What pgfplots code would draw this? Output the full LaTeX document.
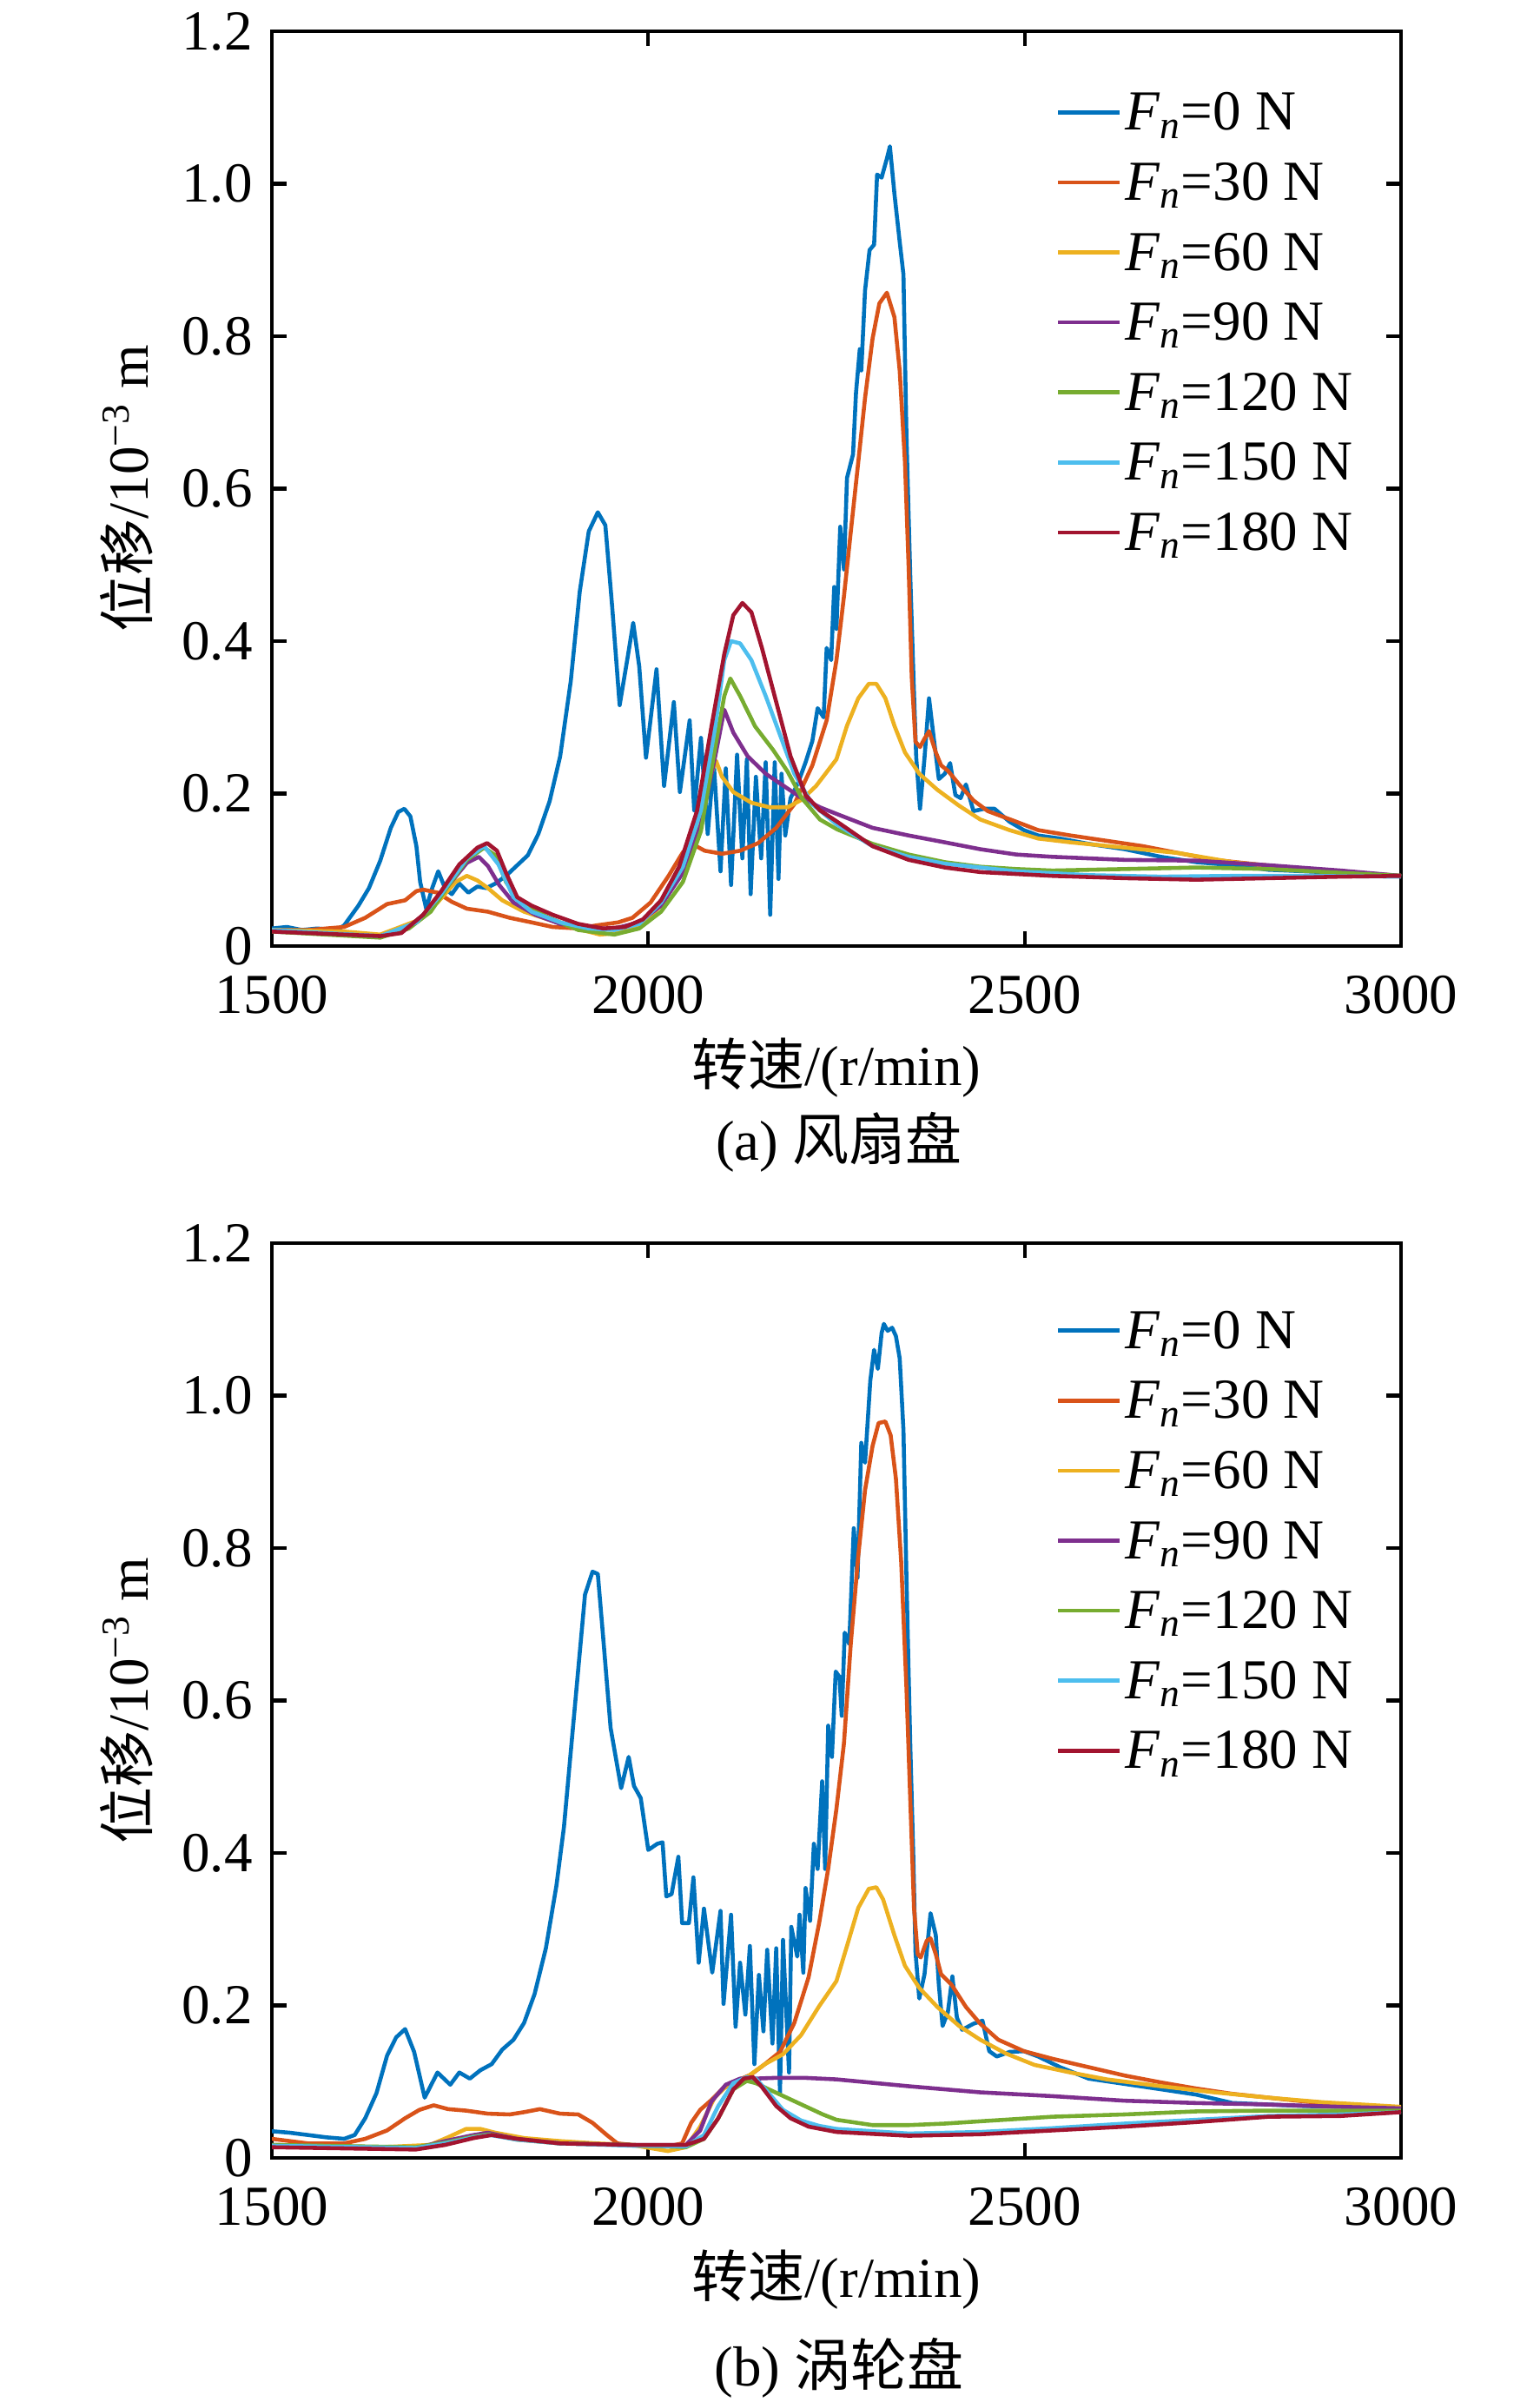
\documentclass[border=0pt]{standalone}
\usepackage{fontspec}
\setmainfont{Liberation Serif}
\newfontfamily\cjk{Noto Sans CJK SC}
\usepackage{pgfplots}
\pgfplotsset{compat=1.18}
\definecolor{c1}{rgb}{0,0.447,0.741}
\definecolor{c2}{rgb}{0.85,0.325,0.098}
\definecolor{c3}{rgb}{0.929,0.694,0.125}
\definecolor{c4}{rgb}{0.494,0.184,0.556}
\definecolor{c5}{rgb}{0.466,0.674,0.188}
\definecolor{c6}{rgb}{0.301,0.745,0.933}
\definecolor{c7}{rgb}{0.635,0.078,0.184}
\pgfplotsset{myaxis/.style={
  scale only axis, width=13cm, height=10.53cm, anchor=south west,
  xmin=1500, xmax=3000, ymin=0, ymax=1.2,
  xtick={1500,2000,2500,3000},
  ytick={0,0.2,0.4,0.6,0.8,1.0,1.2},
  yticklabels={0,0.2,0.4,0.6,0.8,1.0,1.2},
  xticklabels={1500,2000,2500,3000},
  tick align=inside, major tick length=0.17cm,
  axis line style={line width=1.2pt}, every tick/.style={black, line width=1.2pt},
  /pgf/number format/assume math mode=true,
  xticklabel style={yshift=-0.12cm},
  xlabel={{\cjk 转速}/(r/min)},
  ylabel={{\cjk 位移}/10\textsuperscript{−3} m},
  xlabel style={at={(axis description cs:0.5,-0.133)}, anchor=center},
  ylabel style={at={(axis description cs:-0.1285,0.5)}, anchor=center},
  every axis plot/.append style={line width=1.3pt, mark=none, line join=round},
  legend image code/.code={\draw[#1] (0cm,0.13cm) -- (0.71cm,0.13cm);},
  legend cell align=left,
  legend style={anchor=north west, draw=none, fill=none, inner sep=0pt,
    row sep=0pt, column sep=0.04cm,
    nodes={inner sep=0pt, text height=0.48cm, text depth=0.326cm, anchor=west}},
}}
\newcommand{\Fn}[1]{\textit{F}\textsubscript{\textit{n}}=#1 N}
\begin{document}
\fontsize{18.5}{22}\selectfont
\begin{tikzpicture}
\useasboundingbox (0,0) rectangle (17.72cm,27.65cm);
% ---------------- (a) ----------------
\begin{axis}[myaxis, at={(3.13cm,16.76cm)},
  legend style={at={(axis description cs:0.6938,0.938)}}]
\addplot[c1] coordinates {(1500,0.023)(1520,0.025)(1540,0.021)(1560,0.023)(1586,0.021)(1596,0.027)(1615,0.053)(1629,0.076)(1644,0.112)(1658,0.155)(1668,0.176)(1676,0.180)(1684,0.170)(1692,0.131)(1697,0.084)(1705,0.049)(1713,0.076)(1721,0.098)(1730,0.076)(1739,0.068)(1749,0.082)(1761,0.070)(1773,0.078)(1785,0.076)(1797,0.082)(1811,0.092)(1826,0.106)(1840,0.119)(1854,0.147)(1869,0.190)(1883,0.249)(1897,0.347)(1909,0.465)(1921,0.544)(1933,0.569)(1943,0.552)(1952,0.446)(1962,0.316)(1972,0.375)(1980,0.424)(1988,0.367)(1997,0.247)(2011,0.363)(2021,0.210)(2034,0.320)(2042,0.202)(2055,0.296)(2061,0.178)(2070,0.273)(2079,0.147)(2087,0.241)(2096,0.098)(2103,0.233)(2110,0.080)(2118,0.251)(2125,0.115)(2131,0.245)(2136,0.068)(2143,0.222)(2150,0.115)(2156,0.241)(2162,0.041)(2168,0.241)(2173,0.088)(2177,0.226)(2182,0.145)(2189,0.194)(2199,0.214)(2209,0.241)(2218,0.269)(2225,0.312)(2233,0.300)(2237,0.391)(2243,0.375)(2247,0.471)(2250,0.416)(2255,0.550)(2260,0.494)(2264,0.614)(2272,0.645)(2276,0.726)(2281,0.783)(2283,0.755)(2288,0.860)(2294,0.913)(2300,0.920)(2304,1.012)(2310,1.008)(2317,1.033)(2321,1.049)(2327,0.987)(2334,0.924)(2339,0.881)(2343,0.670)(2348,0.487)(2353,0.332)(2356,0.247)(2361,0.180)(2367,0.247)(2373,0.325)(2379,0.275)(2386,0.219)(2394,0.226)(2401,0.240)(2408,0.198)(2415,0.194)(2422,0.212)(2432,0.177)(2446,0.180)(2460,0.180)(2480,0.163)(2499,0.152)(2518,0.145)(2547,0.141)(2585,0.134)(2633,0.127)(2681,0.117)(2728,0.110)(2776,0.106)(2824,0.100)(2872,0.098)(2920,0.096)(3000,0.092)};
\addplot[c2] coordinates {(1500,0.021)(1548,0.021)(1596,0.025)(1624,0.037)(1653,0.055)(1677,0.060)(1692,0.072)(1701,0.074)(1720,0.070)(1739,0.058)(1759,0.049)(1787,0.045)(1816,0.037)(1845,0.031)(1873,0.025)(1907,0.023)(1931,0.027)(1960,0.031)(1979,0.037)(2003,0.057)(2027,0.092)(2046,0.123)(2060,0.133)(2075,0.125)(2098,0.121)(2122,0.125)(2146,0.135)(2170,0.155)(2194,0.186)(2218,0.237)(2237,0.296)(2250,0.375)(2260,0.459)(2269,0.543)(2279,0.635)(2288,0.719)(2298,0.797)(2307,0.843)(2317,0.857)(2327,0.825)(2334,0.755)(2341,0.635)(2346,0.494)(2350,0.353)(2355,0.268)(2361,0.261)(2367,0.272)(2373,0.282)(2382,0.254)(2389,0.237)(2398,0.230)(2413,0.212)(2432,0.191)(2451,0.177)(2470,0.170)(2489,0.163)(2518,0.152)(2561,0.145)(2609,0.138)(2657,0.131)(2704,0.122)(2752,0.113)(2800,0.108)(2848,0.103)(2920,0.097)(3000,0.092)};
\addplot[c3] coordinates {(1500,0.021)(1596,0.019)(1644,0.015)(1692,0.033)(1720,0.057)(1744,0.084)(1759,0.092)(1773,0.086)(1787,0.076)(1806,0.060)(1835,0.045)(1873,0.033)(1912,0.021)(1936,0.015)(1960,0.017)(1988,0.025)(2017,0.053)(2041,0.092)(2065,0.151)(2079,0.214)(2090,0.243)(2098,0.222)(2113,0.202)(2137,0.188)(2161,0.182)(2185,0.182)(2204,0.192)(2223,0.210)(2240,0.232)(2250,0.245)(2264,0.289)(2279,0.325)(2293,0.344)(2303,0.344)(2315,0.325)(2327,0.289)(2341,0.254)(2360,0.226)(2384,0.205)(2413,0.184)(2441,0.166)(2480,0.152)(2518,0.141)(2561,0.136)(2633,0.129)(2704,0.122)(2776,0.110)(2848,0.103)(2920,0.098)(3000,0.092)};
\addplot[c4] coordinates {(1500,0.019)(1596,0.015)(1644,0.013)(1682,0.025)(1711,0.049)(1735,0.080)(1759,0.109)(1775,0.117)(1787,0.105)(1802,0.080)(1821,0.057)(1850,0.041)(1883,0.029)(1921,0.023)(1955,0.023)(1988,0.031)(2017,0.053)(2046,0.096)(2070,0.159)(2089,0.249)(2101,0.310)(2113,0.280)(2132,0.249)(2156,0.226)(2180,0.210)(2204,0.194)(2228,0.182)(2251,0.173)(2298,0.155)(2346,0.145)(2394,0.136)(2441,0.127)(2489,0.120)(2537,0.117)(2585,0.115)(2633,0.113)(2728,0.112)(2824,0.106)(2920,0.099)(3000,0.092)};
\addplot[c5] coordinates {(1500,0.019)(1644,0.011)(1682,0.023)(1711,0.045)(1735,0.080)(1759,0.113)(1782,0.129)(1797,0.119)(1811,0.084)(1830,0.057)(1864,0.039)(1907,0.021)(1955,0.015)(1988,0.023)(2017,0.045)(2046,0.084)(2070,0.151)(2089,0.261)(2101,0.328)(2109,0.351)(2122,0.328)(2142,0.288)(2166,0.257)(2185,0.229)(2204,0.194)(2228,0.166)(2251,0.153)(2298,0.134)(2346,0.120)(2394,0.110)(2441,0.104)(2489,0.101)(2537,0.099)(2633,0.101)(2728,0.103)(2824,0.101)(2920,0.096)(3000,0.092)};
\addplot[c6] coordinates {(1500,0.021)(1644,0.013)(1692,0.031)(1725,0.068)(1759,0.115)(1782,0.131)(1801,0.107)(1821,0.064)(1845,0.045)(1883,0.031)(1921,0.023)(1955,0.021)(1988,0.029)(2017,0.057)(2046,0.104)(2070,0.178)(2089,0.288)(2101,0.375)(2110,0.400)(2122,0.397)(2137,0.375)(2156,0.328)(2175,0.277)(2194,0.226)(2218,0.186)(2251,0.159)(2298,0.131)(2346,0.117)(2394,0.108)(2441,0.103)(2489,0.098)(2585,0.093)(2681,0.091)(2776,0.092)(2872,0.092)(3000,0.091)};
\addplot[c7] coordinates {(1500,0.019)(1644,0.013)(1672,0.017)(1701,0.041)(1725,0.072)(1749,0.107)(1773,0.129)(1786,0.135)(1799,0.125)(1811,0.096)(1826,0.064)(1845,0.053)(1873,0.041)(1907,0.029)(1940,0.023)(1969,0.025)(1993,0.035)(2017,0.060)(2041,0.104)(2065,0.178)(2084,0.288)(2101,0.383)(2113,0.434)(2125,0.450)(2137,0.438)(2151,0.391)(2170,0.320)(2189,0.249)(2209,0.198)(2228,0.178)(2251,0.163)(2298,0.131)(2346,0.113)(2394,0.103)(2441,0.097)(2537,0.092)(2633,0.089)(2728,0.087)(2824,0.089)(2920,0.091)(3000,0.092)};
\legend{\Fn{0},\Fn{30},\Fn{60},\Fn{90},\Fn{120},\Fn{150},\Fn{180}}
\end{axis}
% ---------------- (b) ----------------
\begin{axis}[myaxis, at={(3.13cm,2.81cm)},
  legend style={at={(axis description cs:0.6938,0.931)}}]
\addplot[c1] coordinates {(1500,0.035)(1524,0.033)(1548,0.030)(1572,0.027)(1596,0.025)(1610,0.030)(1624,0.052)(1639,0.085)(1653,0.134)(1665,0.158)(1677,0.169)(1689,0.139)(1703,0.079)(1720,0.112)(1737,0.096)(1749,0.112)(1763,0.104)(1777,0.115)(1792,0.123)(1806,0.142)(1821,0.155)(1835,0.177)(1849,0.215)(1864,0.275)(1878,0.357)(1888,0.434)(1897,0.532)(1907,0.641)(1916,0.739)(1926,0.769)(1933,0.766)(1940,0.684)(1950,0.564)(1964,0.485)(1974,0.526)(1981,0.488)(1990,0.472)(2000,0.404)(2012,0.412)(2019,0.414)(2024,0.343)(2031,0.346)(2040,0.395)(2045,0.308)(2054,0.308)(2060,0.368)(2067,0.256)(2074,0.327)(2085,0.243)(2096,0.324)(2100,0.202)(2110,0.319)(2116,0.172)(2122,0.256)(2129,0.188)(2135,0.278)(2141,0.123)(2147,0.240)(2153,0.166)(2158,0.273)(2165,0.150)(2170,0.275)(2175,0.085)(2179,0.286)(2187,0.112)(2190,0.303)(2198,0.264)(2201,0.319)(2206,0.243)(2209,0.354)(2215,0.311)(2220,0.412)(2225,0.379)(2231,0.494)(2235,0.379)(2239,0.567)(2244,0.526)(2249,0.638)(2254,0.631)(2257,0.580)(2261,0.689)(2267,0.674)(2273,0.826)(2278,0.761)(2283,0.938)(2288,0.912)(2295,1.020)(2300,1.060)(2305,1.035)(2310,1.082)(2313,1.094)(2318,1.085)(2324,1.089)(2329,1.078)(2334,1.049)(2339,0.955)(2343,0.761)(2348,0.544)(2352,0.400)(2355,0.270)(2360,0.209)(2367,0.241)(2375,0.321)(2382,0.292)(2386,0.227)(2391,0.173)(2398,0.191)(2404,0.238)(2410,0.184)(2417,0.168)(2432,0.176)(2444,0.180)(2453,0.140)(2463,0.133)(2480,0.139)(2499,0.140)(2518,0.133)(2547,0.119)(2585,0.104)(2633,0.097)(2681,0.090)(2728,0.083)(2776,0.072)(2824,0.070)(2872,0.068)(2920,0.067)(3000,0.065)};
\addplot[c2] coordinates {(1500,0.025)(1548,0.019)(1596,0.019)(1624,0.025)(1653,0.036)(1677,0.052)(1696,0.063)(1715,0.069)(1734,0.064)(1758,0.062)(1787,0.058)(1816,0.057)(1835,0.060)(1856,0.064)(1883,0.058)(1907,0.057)(1926,0.046)(1945,0.030)(1959,0.019)(1978,0.017)(2026,0.015)(2045,0.019)(2057,0.046)(2069,0.063)(2084,0.076)(2098,0.090)(2117,0.101)(2136,0.109)(2155,0.123)(2175,0.139)(2194,0.177)(2213,0.237)(2227,0.308)(2239,0.379)(2250,0.458)(2260,0.544)(2269,0.674)(2279,0.790)(2288,0.876)(2298,0.934)(2306,0.964)(2315,0.966)(2322,0.948)(2329,0.891)(2336,0.782)(2343,0.616)(2348,0.472)(2353,0.328)(2358,0.267)(2362,0.263)(2370,0.285)(2375,0.288)(2382,0.267)(2389,0.241)(2403,0.227)(2422,0.198)(2441,0.176)(2465,0.155)(2499,0.140)(2537,0.130)(2585,0.119)(2633,0.108)(2681,0.099)(2728,0.091)(2776,0.084)(2824,0.079)(2872,0.074)(2920,0.070)(3000,0.065)};
\addplot[c3] coordinates {(1500,0.017)(1644,0.014)(1710,0.017)(1734,0.027)(1758,0.038)(1777,0.038)(1797,0.033)(1835,0.026)(1883,0.022)(1931,0.019)(1978,0.017)(2026,0.009)(2050,0.014)(2069,0.041)(2088,0.079)(2108,0.098)(2131,0.106)(2155,0.123)(2179,0.136)(2203,0.161)(2227,0.199)(2250,0.232)(2264,0.278)(2279,0.328)(2293,0.353)(2303,0.355)(2312,0.339)(2327,0.292)(2341,0.252)(2360,0.223)(2384,0.198)(2413,0.173)(2441,0.155)(2475,0.137)(2513,0.122)(2561,0.112)(2609,0.103)(2681,0.094)(2752,0.086)(2824,0.079)(2896,0.073)(3000,0.067)};
\addplot[c4] coordinates {(1500,0.017)(1691,0.013)(1730,0.022)(1768,0.030)(1787,0.033)(1825,0.025)(1883,0.019)(1978,0.017)(2050,0.017)(2069,0.036)(2084,0.074)(2103,0.096)(2122,0.104)(2141,0.104)(2170,0.105)(2208,0.105)(2250,0.103)(2346,0.094)(2441,0.086)(2537,0.081)(2633,0.075)(2728,0.072)(2824,0.070)(2920,0.067)(3000,0.065)};
\addplot[c5] coordinates {(1500,0.017)(1691,0.014)(1730,0.020)(1768,0.028)(1790,0.031)(1825,0.024)(1883,0.019)(1978,0.017)(2050,0.014)(2074,0.025)(2093,0.052)(2113,0.090)(2131,0.101)(2143,0.098)(2160,0.090)(2184,0.079)(2208,0.068)(2232,0.057)(2250,0.050)(2298,0.043)(2346,0.043)(2394,0.045)(2441,0.048)(2537,0.054)(2633,0.057)(2728,0.061)(2824,0.062)(2920,0.062)(3000,0.062)};
\addplot[c6] coordinates {(1500,0.016)(1691,0.013)(1730,0.019)(1768,0.027)(1790,0.030)(1825,0.024)(1883,0.019)(1978,0.016)(2050,0.015)(2074,0.030)(2093,0.068)(2113,0.098)(2131,0.106)(2143,0.104)(2160,0.085)(2179,0.063)(2203,0.049)(2227,0.042)(2250,0.038)(2346,0.032)(2441,0.034)(2537,0.039)(2633,0.045)(2728,0.050)(2824,0.055)(2920,0.057)(3000,0.060)};
\addplot[c7] coordinates {(1500,0.014)(1691,0.011)(1730,0.017)(1768,0.026)(1792,0.030)(1825,0.025)(1883,0.019)(1978,0.017)(2050,0.017)(2074,0.025)(2093,0.052)(2113,0.090)(2127,0.104)(2139,0.106)(2151,0.093)(2170,0.068)(2189,0.052)(2213,0.041)(2250,0.034)(2346,0.029)(2441,0.031)(2537,0.036)(2633,0.041)(2728,0.047)(2824,0.054)(2920,0.055)(3000,0.060)};
\legend{\Fn{0},\Fn{30},\Fn{60},\Fn{90},\Fn{120},\Fn{150},\Fn{180}}
\end{axis}
\node at (9.66cm,14.50cm) {(a) {\cjk 风扇盘}};
\node at (9.66cm,0.39cm) {(b) {\cjk 涡轮盘}};
\end{tikzpicture}
\end{document}
